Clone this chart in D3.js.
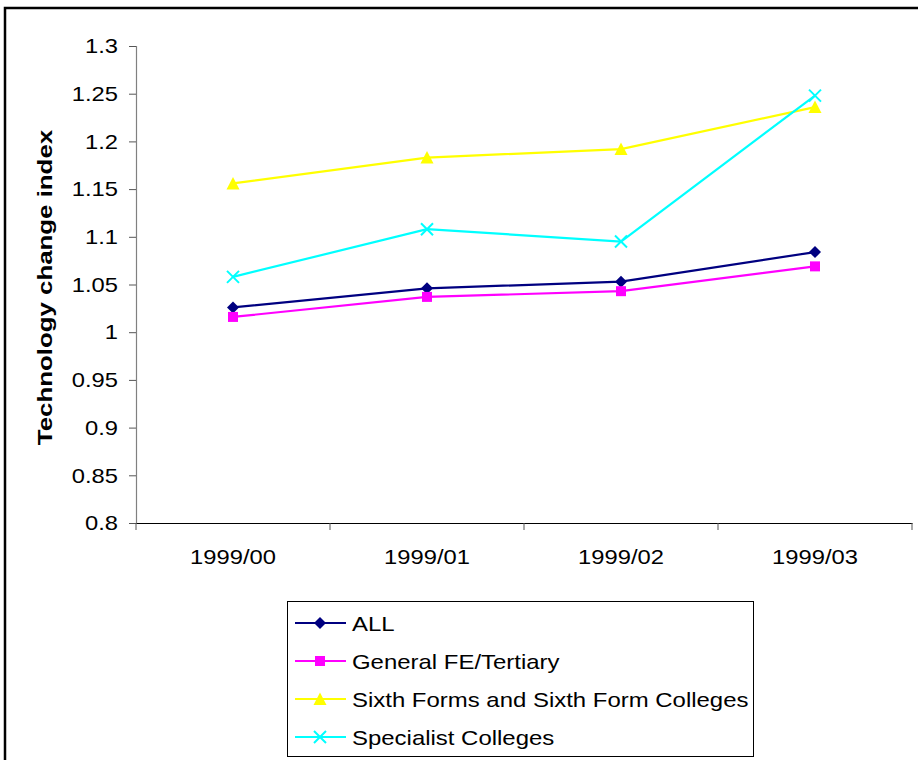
<!DOCTYPE html>
<html>
<head>
<meta charset="utf-8">
<script src="https://cdn.jsdelivr.net/npm/d3@7"></script>
<style>
  body { margin: 0; background: #fff; }
  svg { display: block; }
  text { font-family: "Liberation Sans", Arial, sans-serif; fill: #000; }
</style>
</head>
<body>
<svg id="chart" width="918" height="760"></svg>
<script>
// Data
const categories = ["1999/00", "1999/01", "1999/02", "1999/03"];
const yTicks = [0.8, 0.85, 0.9, 0.95, 1, 1.05, 1.1, 1.15, 1.2, 1.25, 1.3];

const seriesNames = ["ALL", "General FE/Tertiary", "Sixth Forms and Sixth Form Colleges", "Specialist Colleges"];
const allValues = [1.026, 1.046, 1.053, 1.084];
const generalValues = [1.016, 1.037, 1.043, 1.069];
const sixthValues = [1.156, 1.183, 1.192, 1.236];
const specialistValues = [1.058, 1.108, 1.095, 1.248];

const seriesColors = ["#000080", "#ff00ff", "#ffff00", "#00ffff"];
const seriesMarkers = ["diamond", "square", "triangle", "cross"];

const series = [allValues, generalValues, sixthValues, specialistValues].map((values, i) => ({
    name: seriesNames[i],
    values: values,
    color: seriesColors[i],
    marker: seriesMarkers[i]
}));

// Layout
const svg = d3.select("#chart");
const plotLeft = 136, plotRight = 912, plotTop = 46, plotBottom = 523;

const x = d3.scaleBand().domain(categories).range([plotLeft, plotRight]);
const y = d3.scaleLinear().domain([0.8, 1.3]).range([plotBottom, plotTop]);

// reference text is wider than Arial: stretch it along the baseline
function widen(k) {
    return sel => sel.each(function () {
        const len = this.getComputedTextLength();
        d3.select(this).attr("textLength", len * k).attr("lengthAdjust", "spacingAndGlyphs");
    });
}

// Outer frame
svg.append("rect")
    .attr("x", 5).attr("y", 8)
    .attr("width", 950).attr("height", 800)
    .attr("fill", "none")
    .attr("stroke", "#000")
    .attr("stroke-width", 2.5);

// Y axis
const yAxis = svg.append("g")
    .attr("transform", `translate(${plotLeft},0)`)
    .call(d3.axisLeft(y).tickValues(yTicks).tickSize(7).tickPadding(11).tickFormat(d => String(d)));
yAxis.select(".domain").attr("stroke", "#808080").attr("stroke-width", 1.2);
yAxis.selectAll(".tick line").attr("stroke", "#555");
yAxis.selectAll(".tick text")
    .attr("font-size", 21)
    .attr("font-family", "Liberation Sans, Arial, sans-serif")
    .call(widen(1.13));

// X axis (labels centred in bands, ticks at band edges)
const xAxis = svg.append("g")
    .attr("transform", `translate(0,${plotBottom})`)
    .call(d3.axisBottom(x).tickSize(0).tickPadding(26));
xAxis.select(".domain").attr("stroke", "#000").attr("stroke-width", 1.2);
xAxis.selectAll(".tick text")
    .attr("font-size", 21)
    .attr("font-family", "Liberation Sans, Arial, sans-serif")
    .call(widen(1.13));

const edges = categories.map(c => x(c)).concat([x.range()[1]]);
xAxis.selectAll(".edge")
    .data(edges)
    .join("line")
    .attr("class", "edge")
    .attr("x1", d => d).attr("x2", d => d)
    .attr("y1", 0).attr("y2", 7)
    .attr("stroke", "#555");

// Y title
svg.append("text")
    .attr("transform", `translate(52,${(plotTop + plotBottom) / 2 + 3}) rotate(-90)`)
    .attr("text-anchor", "middle")
    .attr("font-size", 21)
    .attr("font-weight", "bold")
    .text("Technology change index")
    .call(widen(1.23));

// Markers
function markerPath(type) {
    if (type === "diamond") return "M0,-6L6,0L0,6L-6,0Z";
    if (type === "square") return "M-5,-5H5V5H-5Z";
    if (type === "triangle") return "M0,-6.5L6.5,6L-6.5,6Z";
    return "M-6,-6L6,6M-6,6L6,-6";
}

function drawMarker(g, type, color) {
    const p = g.append("path").attr("d", markerPath(type));
    if (type === "cross") {
        p.attr("fill", "none").attr("stroke", color).attr("stroke-width", 2);
    } else {
        p.attr("fill", color).attr("stroke", "none");
    }
}

const cx = d => x(d) + x.bandwidth() / 2;

const line = d3.line()
    .x((d, i) => cx(categories[i]))
    .y(d => y(d));

// Lines
series.forEach(s => {
    svg.append("path")
        .datum(s.values)
        .attr("d", line)
        .attr("fill", "none")
        .attr("stroke", s.color)
        .attr("stroke-width", 2.2);
});

// Points
series.forEach(s => {
    s.values.forEach((v, i) => {
        const g = svg.append("g").attr("transform", `translate(${cx(categories[i])},${y(v)})`);
        drawMarker(g, s.marker, s.color);
    });
});

// Legend
const legend = svg.append("g");
legend.append("rect")
    .attr("x", 287.5).attr("y", 601.5)
    .attr("width", 466).attr("height", 155)
    .attr("fill", "#fff")
    .attr("stroke", "#000")
    .attr("stroke-width", 1);

series.forEach((s, i) => {
    const ly = 623 + i * 38;
    const row = legend.append("g").attr("transform", `translate(0,${ly})`);
    row.append("line")
        .attr("x1", 295).attr("x2", 346)
        .attr("stroke", s.color)
        .attr("stroke-width", 2);
    drawMarker(row.append("g").attr("transform", "translate(320,0)"), s.marker, s.color);
    row.append("text")
        .attr("x", 352)
        .attr("dy", "0.36em")
        .attr("font-size", 21)
        .text(s.name)
        .call(widen(1.14));
});
</script>
</body>
</html>
